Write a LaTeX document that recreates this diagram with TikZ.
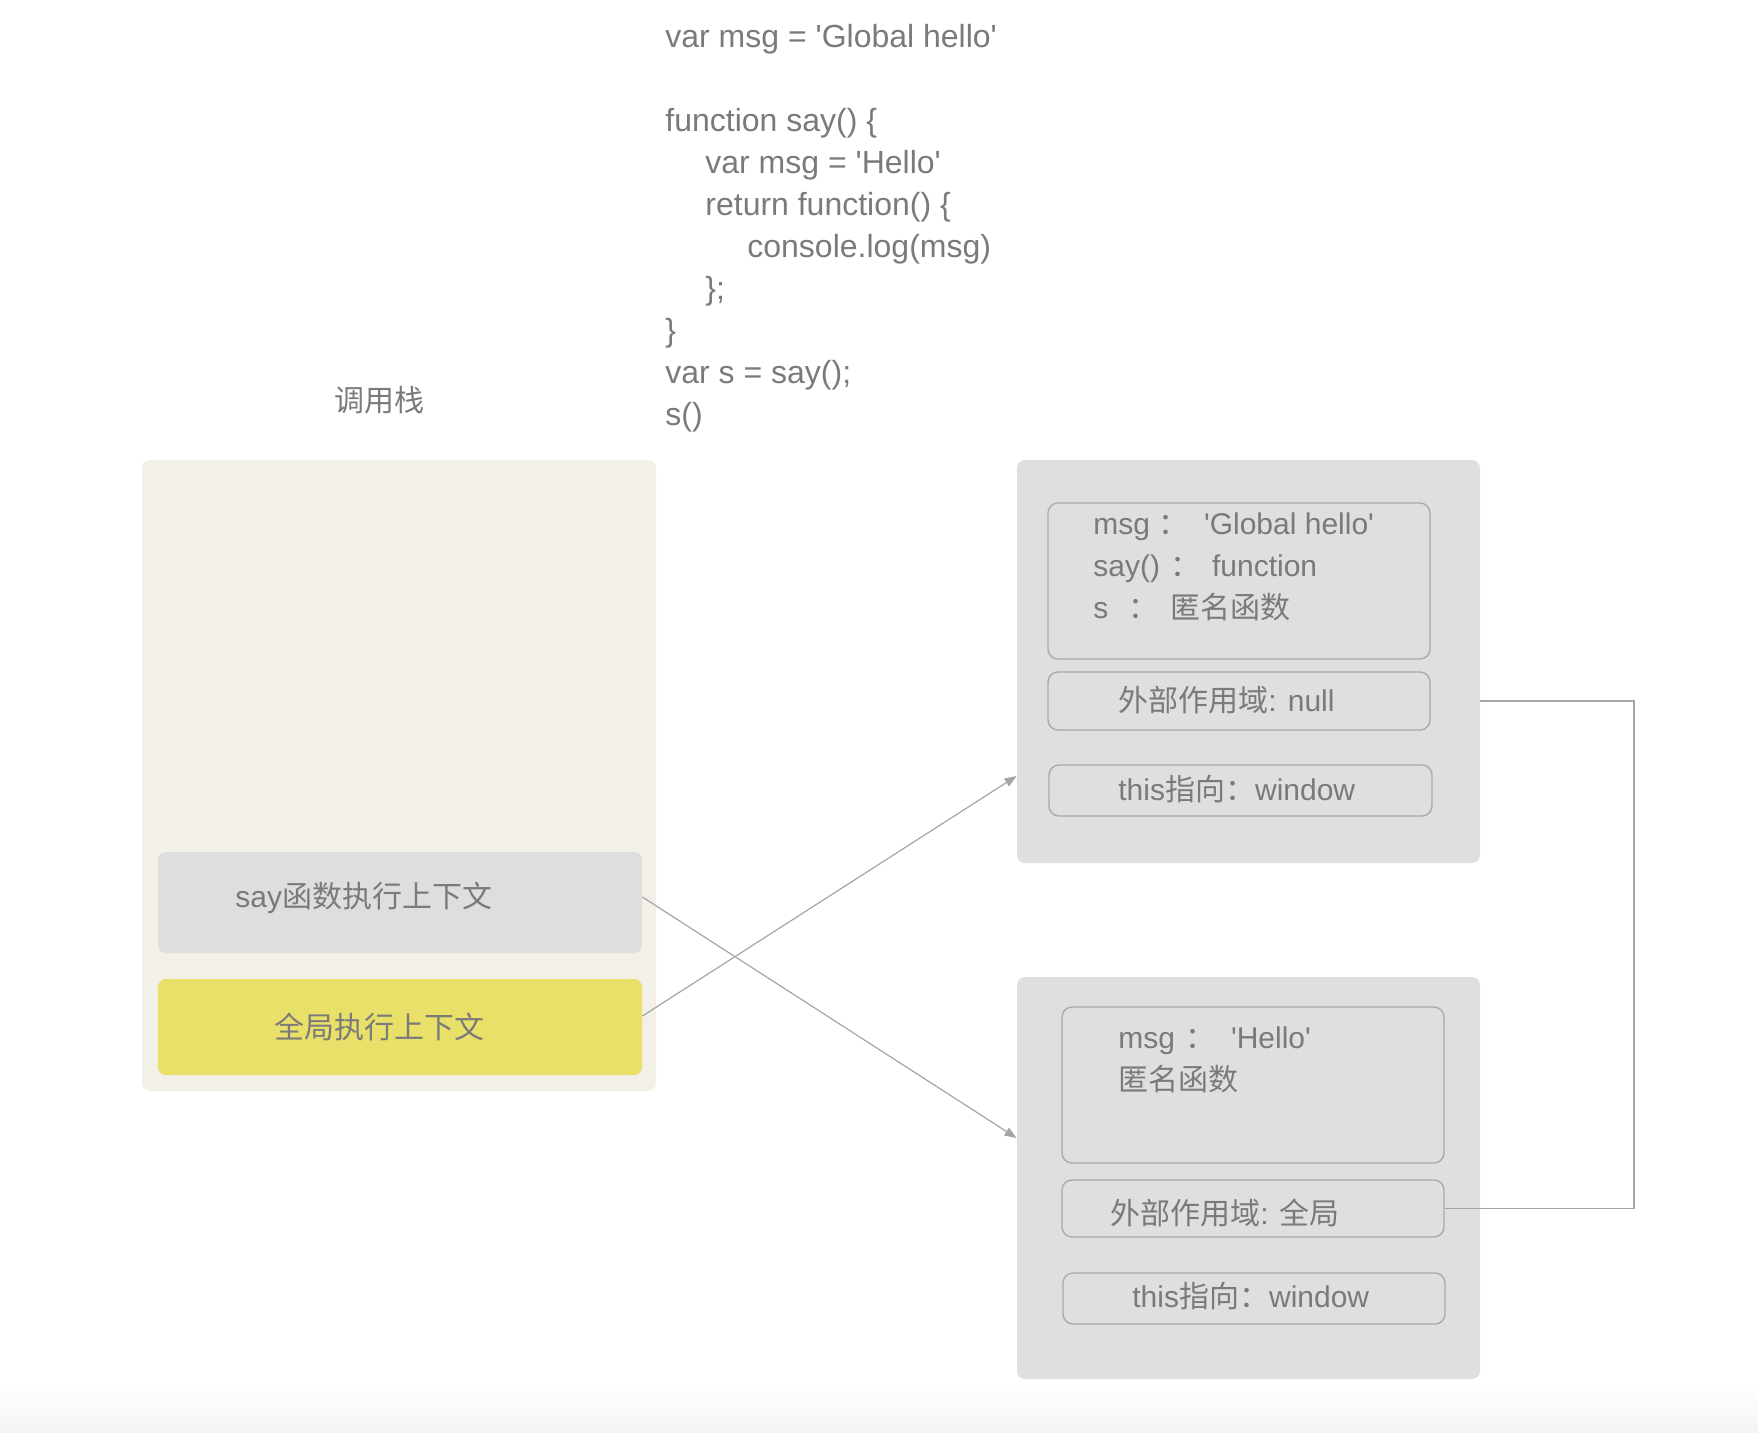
\documentclass[tikz,border=0pt]{standalone}
\usepackage{fontspec}
\setmainfont{Liberation Sans}
\newfontfamily\cjk{Noto Sans CJK SC}
\usetikzlibrary{arrows.meta,calc}
\definecolor{txt}{HTML}{7A7A7A}
\definecolor{stackbg}{HTML}{F3F0E8}
\definecolor{saybg}{HTML}{DEDEDE}
\definecolor{globbg}{HTML}{E9E06A}
\definecolor{envbg}{HTML}{DFDFDF}
\definecolor{edge}{HTML}{AAAAAA}
\definecolor{wire}{HTML}{A5A5A5}
\newcommand{\sq}{\textquotesingle}
\begin{document}
\begin{tikzpicture}[x=0.5pt,y=-0.5pt,
  panel/.style={rectangle, draw=none, inner sep=0pt, rounded corners=4pt},
  slot/.style={rectangle, draw=edge, line width=0.7pt, fill=envbg, inner sep=0pt, rounded corners=5pt},
  lbl/.style={anchor=base west, inner sep=0pt, text=txt, font=\fontsize{15}{18}\selectfont},
  codeline/.style={lbl, font=\fontsize{16}{19}\selectfont},
  wirel/.style={draw=wire, line width=0.6pt},
  arr/.style={wirel, -{Triangle[length=6pt,width=4.5pt]}}]
\useasboundingbox (0,0) rectangle (1758,1432);
\shade[top color=white, bottom color=black!4] (0,1385) rectangle (1758,1432);

% code
\node[codeline] (c1) at (665,47) {var msg = \sq Global hello\sq};
\node[codeline] (c2) at (665,131) {function say() \{};
\node[codeline] (c3) at (705,173) {var msg = \sq Hello\sq};
\node[codeline] (c4) at (705,215) {return function() \{};
\node[codeline] (c5) at (747,257) {console.log(msg)};
\node[codeline] (c6) at (705,299) {\};};
\node[codeline] (c7) at (665,341) {\}};
\node[codeline] (c8) at (665,383) {var s = say();};
\node[codeline] (c9) at (665,425) {s()};

% call stack
\node[lbl] (stacklbl) at (334,411) {\cjk 调用栈};
\node[panel, fill=stackbg, minimum width=257pt, minimum height=315.5pt] (stack) at (399,775.5) {};
\node[panel, fill=saybg, minimum width=242pt, minimum height=50.5pt] (say) at (400,902.5) {};
\node[panel, fill=globbg, minimum width=242pt, minimum height=48pt] (glob) at (400,1027) {};
\node[lbl] (saytxt) at (235,907) {say{\cjk 函数执行上下文}};
\node[lbl] (globtxt) at (274,1038) {\cjk 全局执行上下文};

% global environment
\node[panel, fill=envbg, minimum width=231.5pt, minimum height=201.5pt] (genv) at (1248.5,661.5) {};
\node[slot, minimum width=191pt, minimum height=78pt] (gvars) at (1239,581) {};
\node[slot, minimum width=191pt, minimum height=29pt] (gouter) at (1239,701) {};
\node[slot, minimum width=191.5pt, minimum height=25.5pt] (gthis) at (1240.5,790.5) {};
\node[lbl] (gv1) at (1093,534) {msg\hspace{4pt}{\cjk ：}\hspace{8pt}\sq Global hello\sq};
\node[lbl] (gv2) at (1093,576) {say()\hspace{5pt}{\cjk ：}\hspace{6pt}function};
\node[lbl] (gv3) at (1093,618) {s\hspace{10pt}{\cjk ：}\hspace{6pt}{\cjk 匿名函数}};
\node[lbl] (gotxt) at (1118,711) {{\cjk 外部作用域}: null};
\node[lbl] (gttxt) at (1118,800) {this{\cjk 指向：}window};

% say environment
\node[panel, fill=envbg, minimum width=231.5pt, minimum height=201pt] (senv) at (1248.5,1178) {};
\node[slot, minimum width=191pt, minimum height=78pt] (svars) at (1253,1085) {};
\node[slot, minimum width=191pt, minimum height=28.5pt] (souter) at (1253,1208.5) {};
\node[slot, minimum width=191pt, minimum height=25.5pt] (sthis) at (1254,1298.5) {};
\node[lbl] (sv1) at (1118,1048) {msg\hspace{5pt}{\cjk ：}\hspace{8pt}\sq Hello\sq};
\node[lbl] (sv2) at (1118,1090) {\cjk 匿名函数};
\node[lbl] (sotxt) at (1110,1224) {{\cjk 外部作用域}: {\cjk 全局}};
\node[lbl] (sttxt) at (1132,1307) {this{\cjk 指向：}window};

% connectors
\draw[arr] ([yshift=2.75pt]say.east) -- ([yshift=20pt]senv.west);
\draw[arr] ([yshift=5.5pt]glob.east) -- ([yshift=-57.25pt]genv.west);
\coordinate (bendtop) at (1634,701);
\draw[wirel] (genv.east |- gouter.east) -- (bendtop) -- (bendtop |- souter.east) -- (souter.east);
\end{tikzpicture}
\end{document}
